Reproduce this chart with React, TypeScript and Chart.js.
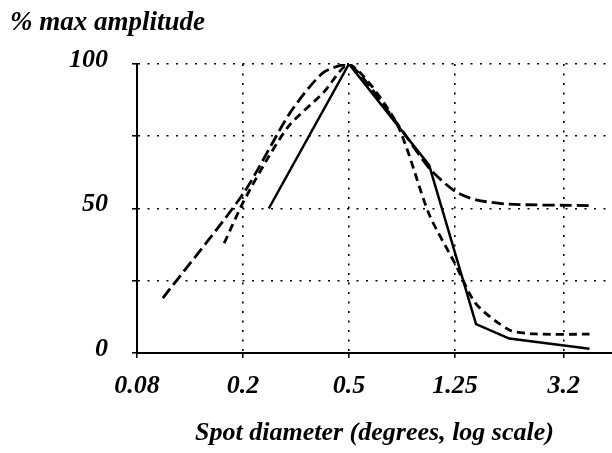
import React, { useEffect, useRef } from 'react';
import { Chart, registerables } from 'chart.js';

Chart.register(...registerables);

// Axis ticks
const xTickValues = [0.08, 0.2, 0.5, 1.25, 3.2];
const xTickLabels = ['0.08', '0.2', '0.5', '1.25', '3.2'];
const yLabelValues = [0, 50, 100];

// Series (spot diameter in degrees, % max amplitude)
const solidX = [0.25, 0.5, 1.0, 1.5, 2.0, 4.0];
const solidY = [50, 100, 65, 10, 5, 1.5];

const longDashX = [0.1, 0.2, 0.3, 0.4, 0.5, 0.75, 1.0, 1.25, 1.5, 2.0, 4.0];
const longDashY = [19, 55, 83, 97, 100, 80, 64, 56, 53, 51.5, 51];

const shortDashX = [0.17, 0.2, 0.25, 0.3, 0.4, 0.5, 0.75, 1.0, 1.25, 1.5, 2.0, 2.5, 4.0];
const shortDashY = [38, 52, 68, 79, 90, 100, 80, 48, 31, 17, 8, 6.6, 6.5];

const FONT_FAMILY = '"Liberation Serif", "Times New Roman", serif';

function pts(xs: number[], ys: number[]) {
  return xs.map((x, i) => ({ x, y: ys[i] }));
}

export default function App() {
  const ref = useRef<HTMLCanvasElement | null>(null);

  useEffect(() => {
    if (!ref.current) return;
    const font = { family: FONT_FAMILY, size: 26, weight: 'bold' as const, style: 'italic' as const, lineHeight: 1.2 };
    const yFont = { family: FONT_FAMILY, size: 26, weight: 'bold' as const, style: 'italic' as const, lineHeight: 0.3 };
    const titleFont = { family: FONT_FAMILY, size: 27, weight: 'bold' as const, style: 'italic' as const, lineHeight: 1.2 };
    const chart = new Chart(ref.current, {
      type: 'line',
      data: {
        datasets: [
          {
            data: pts(solidX, solidY),
            borderColor: '#000',
            borderWidth: 2.5,
            pointRadius: 0,
            tension: 0,
            fill: false,
          },
          {
            data: pts(longDashX, longDashY),
            borderColor: '#000',
            borderWidth: 2.8,
            borderDash: [12, 5],
            pointRadius: 0,
            tension: 0.25,
            fill: false,
          },
          {
            data: pts(shortDashX, shortDashY),
            borderColor: '#000',
            borderWidth: 2.8,
            borderDash: [8, 5],
            pointRadius: 0,
            tension: 0.25,
            fill: false,
          },
        ],
      },
      options: {
        responsive: false,
        animation: false,
        devicePixelRatio: 1,
        layout: { padding: { left: 10, right: 0, top: 0, bottom: 0 } },
        plugins: {
          legend: { display: false },
          tooltip: { enabled: false },
          title: {
            display: true,
            text: '% max amplitude',
            align: 'start',
            color: '#000',
            font: titleFont,
            padding: { top: 7, bottom: 24.6 },
          },
        },
        scales: {
          x: {
            type: 'logarithmic',
            min: 0.08,
            max: 4.86,
            bounds: 'data',
            afterBuildTicks: (scale: any) => {
              scale.ticks = xTickValues.map((v) => ({ value: v }));
            },
            afterFit: (scale: any) => {
              scale.height = 100;
            },
            ticks: {
              autoSkip: false,
              maxRotation: 0,
              minRotation: 0,
              padding: 13,
              color: '#000',
              font,
              callback: (value: any) => {
                const i = xTickValues.indexOf(Number(value));
                return i >= 0 ? xTickLabels[i] : '';
              },
            },
            grid: {
              color: '#000',
              lineWidth: 1.6,
              tickLength: 5,
              tickColor: '#000',
              tickWidth: 1.5,
              tickBorderDash: [],
            },
            border: { display: true, color: '#000', width: 2, dash: [2, 7.5] },
            title: {
              display: true,
              text: 'Spot diameter (degrees, log scale)',
              color: '#000',
              font,
              padding: { top: 0, bottom: 4 },
            },
          },
          y: {
            type: 'linear',
            min: 0,
            max: 100,
            afterFit: (scale: any) => {
              scale.width = 127;
            },
            ticks: {
              stepSize: 25,
              padding: 24,
              color: '#000',
              font: yFont,
              callback: (value: any) => (yLabelValues.includes(Number(value)) ? [String(value), ''] : ''),
            },
            grid: {
              color: '#000',
              lineWidth: 1.6,
              tickLength: 5,
              tickColor: '#000',
              tickWidth: 1.5,
              tickBorderDash: [],
            },
            border: { display: true, color: '#000', width: 2, dash: [2, 7.5] },
          },
        },
      } as any,
    });
    return () => chart.destroy();
  }, []);

  return (
    <div style={{ position: 'fixed', left: 0, top: 0, width: 612, height: 453, background: '#fff' }}>
      <canvas ref={ref} width={612} height={453} style={{ display: 'block', width: 612, height: 453 }} />
    </div>
  );
}
